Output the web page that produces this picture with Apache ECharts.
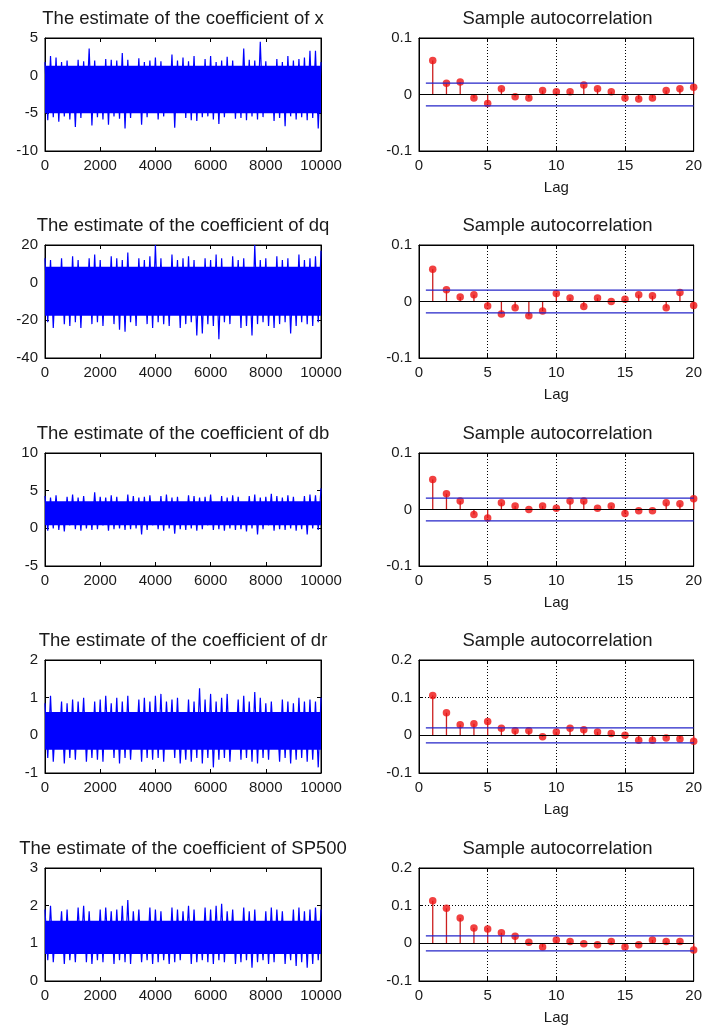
<!DOCTYPE html>
<html><head><meta charset="utf-8">
<script src="https://cdn.jsdelivr.net/npm/echarts@6/dist/echarts.min.js"></script>
<style>html,body{margin:0;padding:0;background:#fff}#c{width:705px;height:1028px}</style>
</head><body><div id="c"></div>
<script>
// ---------- data ----------
const coefNames = ['x', 'dq', 'db', 'dr', 'SP500'];
const lags = [1,2,3,4,5,6,7,8,9,10,11,12,13,14,15,16,17,18,19,20];
const traceStep = 200;  // envelope read every 200 iterations
// local maxima (at 0,200,...,10000) and minima (at 100,300,...,9900) of each trace
const hi_x = [1.8,2.6,2.4,1.8,2.0,1.2,2.1,1.9,3.6,2.0,1.2,2.2,2.1,2.0,3.0,2.1,1.2,2.3,1.8,2.0,2.4,1.9,1.2,2.8,2.0,2.4,1.9,2.6,1.2,2.2,2.6,1.8,2.0,2.5,2.0,1.2,3.6,2.1,2.0,4.5,1.9,1.2,2.2,1.8,2.6,2.0,2.2,2.4,3.3,3.3,1.8];
const lo_x = [-5.9,-5.5,-6.1,-5.4,-5.8,-6.8,-5.6,-4.9,-6.6,-5.5,-5.8,-6.5,-5.4,-5.7,-7.0,-5.6,-4.9,-6.5,-5.5,-4.9,-5.8,-5.4,-4.9,-6.9,-4.9,-5.6,-5.9,-6.0,-5.5,-5.4,-5.8,-6.4,-5.5,-4.9,-5.7,-5.6,-5.9,-5.4,-5.8,-5.5,-4.9,-6.0,-5.6,-6.7,-5.4,-5.8,-5.5,-5.9,-5.6,-7.0];
const core_x = [-5.0, 1.3];
const hi_dq = [13,12,8,13,8,14,12,8,13,15,12,8,14,13,12,16,8,13,12,14,20,13,8,15,12,13,14,12,8,13,12,15,13,8,14,12,13,8,20,12,13,8,14,12,13,8,15,12,13,14,17];
const lo_dq = [-21,-24,-17,-22,-23,-21,-24,-17,-22,-21,-23,-17,-22,-25,-26,-21,-23,-17,-22,-24,-21,-22,-23,-17,-24,-22,-21,-28,-27,-22,-23,-30,-21,-22,-17,-24,-23,-28,-22,-21,-23,-24,-22,-21,-27,-23,-21,-22,-23,-21];
const core_dq = [-17.5, 8.5];
const hi_db = [4.3,4.1,4.4,3.5,4.2,4.5,4.1,4.3,3.5,4.8,4.2,4.1,4.4,4.2,3.5,4.5,4.3,4.1,4.2,4.4,3.5,4.3,4.5,4.1,4.2,3.5,4.4,4.3,4.1,4.2,4.5,3.5,4.3,4.1,4.4,4.2,3.5,4.3,4.5,4.1,4.2,4.6,4.3,4.1,4.4,4.2,3.5,4.3,4.5,4.4,5.3];
const lo_db = [-0.3,0.0,-0.2,-0.4,0.4,-0.1,-0.3,0.0,-0.2,-0.1,0.4,-0.3,-0.1,0.0,-0.2,-0.1,0.0,-0.8,-0.2,0.4,-0.1,-0.3,0.0,-0.7,-0.1,-0.2,0.0,-0.3,-0.1,0.4,-0.2,-0.1,-0.3,0.0,-0.2,-0.1,-0.4,0.0,-0.8,-0.1,0.4,-0.3,-0.1,-0.2,0.0,-0.3,-0.1,-0.8,0.0,-0.2];
const core_db = [0.4, 3.6];
const hi_dr = [0.85,1.05,0.6,0.9,0.85,0.95,0.9,1.0,0.6,0.9,0.95,1.05,0.85,1.0,0.9,1.05,0.6,0.95,1.0,0.9,1.05,1.1,0.9,0.95,1.0,0.6,0.95,0.9,1.25,0.95,1.1,0.9,1.0,1.1,0.6,0.95,1.05,0.9,1.15,1.0,0.85,0.9,0.6,0.95,0.9,0.85,1.0,0.9,0.95,0.9,1.0];
const lo_dr = [-0.6,-0.7,-0.35,-0.75,-0.6,-0.65,-0.35,-0.7,-0.6,-0.65,-0.7,-0.35,-0.6,-0.75,-0.6,-0.65,-0.35,-0.7,-0.6,-0.65,-0.6,-0.7,-0.35,-0.6,-0.75,-0.65,-0.7,-0.6,-0.75,-0.6,-0.85,-0.65,-0.6,-0.7,-0.35,-0.65,-0.6,-0.7,-0.75,-0.6,-0.65,-0.35,-0.7,-0.6,-0.75,-0.65,-0.6,-0.7,-0.65,-0.85];
const core_dr = [-0.38, 0.62];
const hi_sp = [1.9,2.0,1.58,1.85,1.9,1.58,1.95,2.0,1.85,1.58,1.9,1.95,1.85,1.9,2.0,2.15,1.85,1.9,1.58,1.95,1.9,1.85,1.58,1.95,1.9,1.85,2.0,1.9,1.58,1.95,1.9,2.0,2.05,1.85,1.9,1.58,1.95,1.85,1.9,1.58,1.85,1.95,1.9,1.85,1.58,1.9,1.95,1.85,1.9,1.95,1.9];
const lo_sp = [0.55,0.5,0.74,0.45,0.55,0.5,0.74,0.5,0.45,0.55,0.5,0.74,0.45,0.55,0.5,0.45,0.74,0.5,0.55,0.45,0.5,0.55,0.45,0.5,0.55,0.74,0.45,0.5,0.55,0.5,0.45,0.55,0.5,0.74,0.45,0.5,0.55,0.35,0.5,0.55,0.45,0.5,0.74,0.45,0.55,0.4,0.5,0.35,0.45,0.55];
const core_sp = [0.72, 1.6];

const acf_x  = [0.060,0.020,0.022,-0.006,-0.016,0.010,-0.004,-0.006,0.007,0.005,0.005,0.017,0.010,0.005,-0.006,-0.008,-0.006,0.007,0.010,0.013];
const acf_dq = [0.057,0.021,0.008,0.012,-0.008,-0.022,-0.011,-0.025,-0.017,0.014,0.006,-0.009,0.006,0.000,0.004,0.012,0.010,-0.011,0.016,-0.007];
const acf_db = [0.053,0.028,0.015,-0.009,-0.015,0.012,0.006,0.000,0.006,0.002,0.015,0.015,0.002,0.006,-0.007,-0.002,-0.002,0.012,0.010,0.019];
const acf_dr = [0.106,0.060,0.028,0.031,0.037,0.019,0.012,0.012,-0.004,0.009,0.019,0.015,0.009,0.005,0.000,-0.013,-0.013,-0.007,-0.010,-0.016];
const acf_sp = [0.113,0.093,0.067,0.041,0.038,0.028,0.019,0.003,-0.010,0.009,0.005,-0.001,-0.004,0.005,-0.010,-0.004,0.009,0.005,0.005,-0.018];
const confBound = 0.02;
const boundLagRange = [0.5, 20];

// axis ranges [min, max, interval]
const traceX = [0, 10000, 2000];
const traceY = [[-10, 5, 5], [-40, 20, 20], [-5, 10, 5], [-1, 2, 1], [0, 3, 1]];
const acfX = [0, 20, 5];
const acfY = [[-0.1, 0.1, 0.1], [-0.1, 0.1, 0.1], [-0.1, 0.1, 0.1], [-0.1, 0.2, 0.1], [-0.1, 0.2, 0.1]];

const his = [hi_x, hi_dq, hi_db, hi_dr, hi_sp];
const los = [lo_x, lo_dq, lo_db, lo_dr, lo_sp];
const cores = [core_x, core_dq, core_db, core_dr, core_sp];
const acfs = [acf_x, acf_dq, acf_db, acf_dr, acf_sp];

// ---------- layout ----------
const FONT = "'Liberation Sans', Arial, Helvetica, sans-serif";
const TXT = '#1a1a1a';
const rowTops = [38, 245, 453, 660, 868];
const gridH = 113;
const leftX = 45, leftW = 276, rightX = 419, rightW = 277;

const grids = [], xAxes = [], yAxes = [], series = [], graphics = [];
const plainFmt = v => String(v);
const acfFmt = v => (Math.abs(v) < 1e-9 ? '0' : String(Math.round(v * 10) / 10));

function addGrid(left, top, width, xr, yr, isAcf) {
  const gi = grids.length;
  grids.push({ left, top, width, height: gridH, show: true, borderColor: '#000', borderWidth: 1, containLabel: false });
  const common = {
    type: 'value', gridIndex: gi,
    axisLine: { show: true, onZero: false, lineStyle: { color: '#000', width: 1 } },
    axisTick: { show: true, inside: true, length: 4, lineStyle: { color: '#000' } },
    splitLine: { show: isAcf, lineStyle: { color: '#000', type: [1, 2], width: 1 } },
    animation: false
  };
  const lab = fmt => ({ color: TXT, fontSize: 15, fontFamily: FONT, margin: 7, formatter: fmt });
  const xi = xAxes.length;
  xAxes.push(Object.assign({}, common, { position: 'bottom', min: xr[0], max: xr[1], interval: xr[2], axisLabel: lab(plainFmt) },
    isAcf ? { name: 'Lag', nameLocation: 'middle', nameGap: 29, nameTextStyle: { color: TXT, fontSize: 15, fontFamily: FONT } } : {}));
  xAxes.push(Object.assign({}, common, { position: 'top', min: xr[0], max: xr[1], interval: xr[2], axisLabel: { show: false }, splitLine: { show: false } }));
  const yi = yAxes.length;
  yAxes.push(Object.assign({}, common, { position: 'left', min: yr[0], max: yr[1], interval: yr[2], axisLabel: lab(isAcf ? acfFmt : plainFmt) }));
  yAxes.push(Object.assign({}, common, { position: 'right', min: yr[0], max: yr[1], interval: yr[2], axisLabel: { show: false }, splitLine: { show: false } }));
  return { xi, yi };
}

function addTitle(cx, top, text) {
  graphics.push({ type: 'text', x: cx, y: top - 19, silent: true,
    style: { text, fill: TXT, fontSize: 18.5, fontFamily: FONT, align: 'center', verticalAlign: 'middle', textAlign: 'center', textVerticalAlign: 'middle' } });
}

for (let r = 0; r < 5; r++) {
  const top = rowTops[r];
  // trace plot
  const L = addGrid(leftX, top, leftW, traceX, traceY[r], false);
  addTitle(leftX + leftW / 2, top, 'The estimate of the coefficient of ' + coefNames[r]);
  const hi = his[r], lo = los[r], core = cores[r];
  const zig = [];
  for (let i = 0; i < hi.length; i++) {
    zig.push([i * traceStep, hi[i]]);
    if (i < lo.length) zig.push([i * traceStep + traceStep / 2, lo[i]]);
  }
  series.push({
    type: 'line', xAxisIndex: L.xi, yAxisIndex: L.yi, data: zig, symbol: 'none', showSymbol: false,
    lineStyle: { color: '#0000ff', width: 1.2 }, silent: true, animation: false, z: 2,
    markArea: { silent: true, label: { show: false }, itemStyle: { color: '#0000ff', opacity: 1 },
      data: [[{ xAxis: traceX[0], yAxis: core[0] }, { xAxis: traceX[1], yAxis: core[1] }]] }
  });

  // autocorrelation plot
  const R = addGrid(rightX, top, rightW, acfX, acfY[r], true);
  addTitle(rightX + rightW / 2, top, 'Sample autocorrelation');
  const pts = lags.map((l, i) => [l, acfs[r][i]]);
  series.push({
    type: 'bar', xAxisIndex: R.xi, yAxisIndex: R.yi, data: pts, barWidth: 1.3, silent: true, animation: false, z: 2,
    itemStyle: { color: '#cc1f1f' },
    markLine: { silent: true, symbol: 'none', label: { show: false }, animation: false,
      lineStyle: { color: '#000', type: 'solid', width: 1 }, data: [{ yAxis: 0 }] }
  });
  series.push({
    type: 'scatter', xAxisIndex: R.xi, yAxisIndex: R.yi, data: pts, symbol: 'circle', symbolSize: 7.5,
    itemStyle: { color: '#ee1111' }, silent: true, animation: false, z: 3
  });
  [confBound, -confBound].forEach(b => {
    series.push({
      type: 'line', xAxisIndex: R.xi, yAxisIndex: R.yi, data: boundLagRange.map(l => [l, b]),
      symbol: 'none', lineStyle: { color: '#2424c8', width: 1.3 }, silent: true, animation: false, z: 4
    });
  });
}

const chart = echarts.init(document.getElementById('c'), null, { renderer: 'canvas' });
chart.setOption({
  backgroundColor: '#fff',
  animation: false,
  grid: grids, xAxis: xAxes, yAxis: yAxes, series, graphic: graphics,
  tooltip: { show: false }
});
</script></body></html>
